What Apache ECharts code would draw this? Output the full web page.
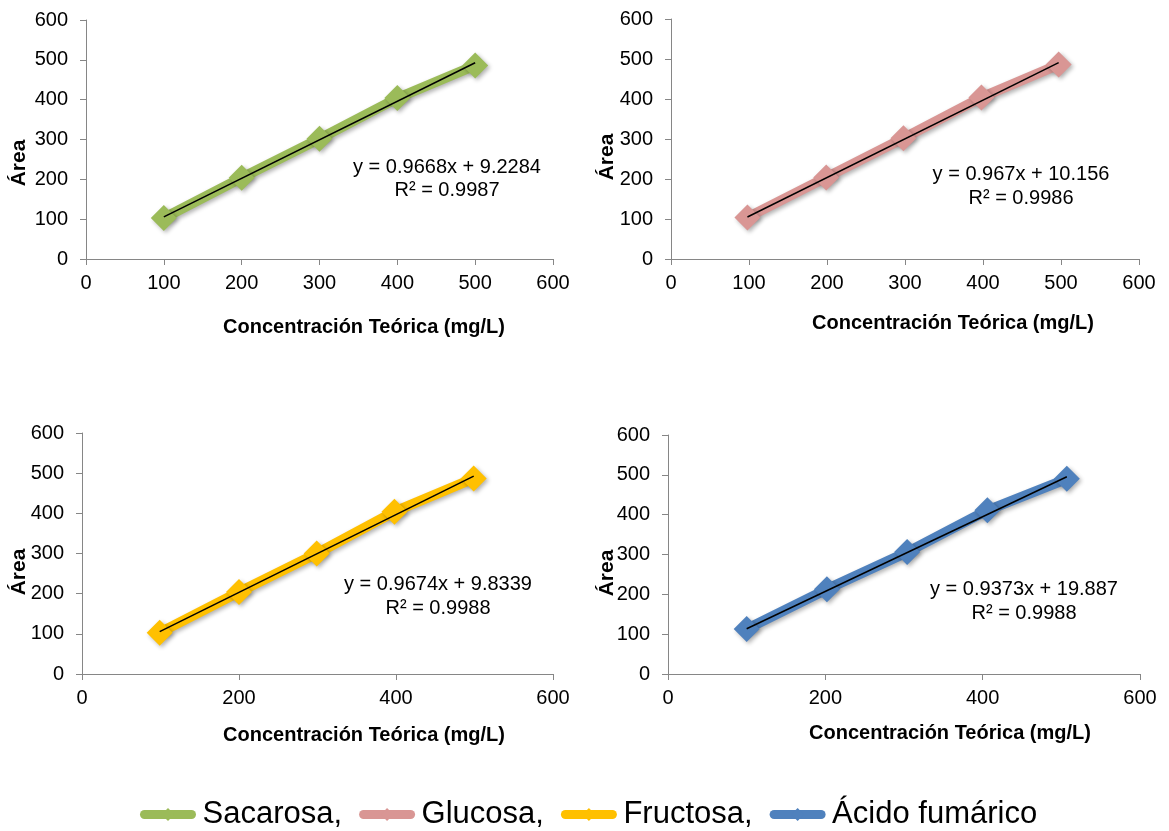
<!DOCTYPE html>
<html>
<head>
<meta charset="utf-8">
<script src="https://cdn.jsdelivr.net/npm/echarts@6/dist/echarts.min.js"></script>
<style>
html,body{margin:0;padding:0;background:#fff;}
#chart{width:1169px;height:831px;}
</style>
</head>
<body>
<div id="chart"></div>
<script>
// ---- data ----
const seriesNames = ['Sacarosa,', 'Glucosa,', 'Fructosa,', 'Ácido fumárico'];
const sacarosaX = [100, 200, 300, 400, 500];
const sacarosaY = [103, 204, 302, 404, 486];
const glucosaX = [98, 199, 298, 398, 497];
const glucosaY = [104, 204, 302, 404, 486];
const fructosaX = [99, 200, 299, 398, 499];
const fructosaY = [103, 204, 300, 404, 487];
const fumaricoX = [100, 202, 304, 406, 507];
const fumaricoY = [113, 213, 306, 411, 490];
const trendSlope = [0.9668, 0.967, 0.9674, 0.9373];
const trendIntercept = [9.2284, 10.156, 9.8339, 19.887];
const rSquared = ['0.9987', '0.9986', '0.9988', '0.9988'];
const xTickStep = [100, 100, 200, 200];
const yTickStep = 100;
const axisMax = 600;
const xTitle = 'Concentración Teórica (mg/L)';
const yTitle = 'Área';

// ---- styling / layout ----
const colors = ['#9BBB59', '#D99694', '#FFC000', '#4F81BD'];
const FONT = '"Liberation Sans", Arial, sans-serif';
const grids = [
  {left: 86, top: 20, width: 467, height: 239},
  {left: 671, top: 19, width: 468, height: 240},
  {left: 82, top: 433, width: 471, height: 241},
  {left: 668, top: 435, width: 472, height: 239}
];
const eqPos = [[447, 167, 190], [1021, 174, 198], [438, 584, 608], [1024, 589, 613]];
const xTitlePos = [[364, 327], [953, 323], [364, 735], [950, 733]];
const yTitlePos = [[19, 163], [607, 157], [19, 572], [607, 573]];

const xs = [sacarosaX, glucosaX, fructosaX, fumaricoX];
const ys = [sacarosaY, glucosaY, fructosaY, fumaricoY];

const xAxis = [], yAxis = [], series = [], graphic = [];
for (let i = 0; i < 4; i++) {
  const axisCommon = {
    type: 'value', min: 0, max: axisMax, gridIndex: i,
    axisLine: {show: true, lineStyle: {color: '#868686', width: 1}},
    axisTick: {show: true, length: 6, lineStyle: {color: '#868686'}},
    splitLine: {show: false},
    axisLabel: {color: '#000', fontSize: 20, fontFamily: FONT}
  };
  xAxis.push(Object.assign({}, axisCommon, {interval: xTickStep[i],
    axisLabel: Object.assign({}, axisCommon.axisLabel, {margin: 14})}));
  yAxis.push(Object.assign({}, axisCommon, {interval: yTickStep,
    axisLabel: Object.assign({}, axisCommon.axisLabel, {margin: 18})}));

  const shadow = {shadowBlur: 4, shadowOffsetX: 2, shadowOffsetY: 2, shadowColor: 'rgba(0,0,0,0.3)'};
  series.push({
    name: seriesNames[i], type: 'line', xAxisIndex: i, yAxisIndex: i,
    data: xs[i].map((x, k) => [x, ys[i][k]]),
    symbol: 'diamond', symbolSize: 26,
    lineStyle: Object.assign({color: colors[i], width: 10}, shadow),
    itemStyle: Object.assign({color: colors[i]}, shadow),
    z: 2, animation: false
  });
  const xmin = Math.min.apply(null, xs[i]), xmax = Math.max.apply(null, xs[i]);
  series.push({
    name: 'trend' + i, type: 'line', xAxisIndex: i, yAxisIndex: i,
    data: [[xmin, trendSlope[i] * xmin + trendIntercept[i]], [xmax, trendSlope[i] * xmax + trendIntercept[i]]],
    symbol: 'none', lineStyle: {color: '#000', width: 1.5}, z: 5, animation: false,
    silent: true
  });

  graphic.push({type: 'text', x: eqPos[i][0], y: eqPos[i][1], z: 10,
    style: {text: 'y = ' + trendSlope[i] + 'x + ' + trendIntercept[i], fontSize: 20, fontFamily: FONT,
      fill: '#000', align: 'center', verticalAlign: 'middle'}});
  graphic.push({type: 'text', x: eqPos[i][0], y: eqPos[i][2], z: 10,
    style: {text: 'R² = ' + rSquared[i], fontSize: 20, fontFamily: FONT,
      fill: '#000', align: 'center', verticalAlign: 'middle'}});
  graphic.push({type: 'text', x: xTitlePos[i][0], y: xTitlePos[i][1],
    style: {text: xTitle, fontSize: 20, fontWeight: 'bold', fontFamily: FONT,
      fill: '#000', align: 'center', verticalAlign: 'middle'}});
  graphic.push({type: 'text', x: yTitlePos[i][0], y: yTitlePos[i][1], rotation: Math.PI / 2,
    style: {text: yTitle, fontSize: 21, fontWeight: 'bold', fontFamily: FONT,
      fill: '#000', align: 'center', verticalAlign: 'middle'}});
}

const chart = echarts.init(document.getElementById('chart'));
chart.setOption({
  backgroundColor: '#fff',
  animation: false,
  grid: grids,
  xAxis: xAxis,
  yAxis: yAxis,
  legend: {
    data: seriesNames,
    left: 140, top: 799, padding: 0,
    itemWidth: 47, itemHeight: 16, itemGap: 17,
    lineStyle: {width: 9, cap: 'round', shadowBlur: 0, shadowOffsetX: 0, shadowOffsetY: 0},
    itemStyle: {shadowBlur: 0, shadowOffsetX: 0, shadowOffsetY: 0},
    formatter: function (name) { return '{t|' + name + '}'; },
    textStyle: {fontSize: 31, fontFamily: FONT, color: '#000',
      rich: {t: {fontSize: 31, fontFamily: FONT, color: '#000', padding: [0, 0, 0, 6]}}},
    selectedMode: false
  },
  series: series,
  graphic: graphic
});
</script>
</body>
</html>
